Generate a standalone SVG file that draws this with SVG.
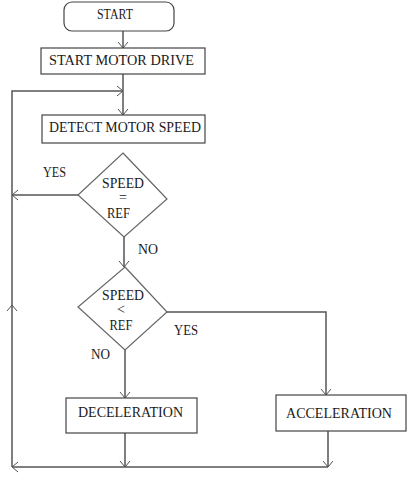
<svg xmlns="http://www.w3.org/2000/svg" width="415" height="485" viewBox="0 0 415 485">
<defs>
<style>
.box{fill:#fff;stroke:#444;stroke-width:1.2}
.dia{fill:#fff;stroke:#666;stroke-width:1.2}
.t{font-family:"Liberation Serif","Times New Roman",serif;font-size:14px;fill:#1a1a1a;text-anchor:middle}
.c{fill:none;stroke:#555;stroke-width:1.5}
</style>
<marker id="ah" viewBox="-7 -7 8 14" markerWidth="8" markerHeight="14" refX="0" refY="0" orient="auto" markerUnits="userSpaceOnUse">
<path d="M-6,-5 L0,0 L-6,5" fill="none" stroke="#555" stroke-width="1"/>
</marker>
</defs>
<rect width="415" height="485" fill="#fff"/>
<g id="connectors">
<path class="c" d="M123,31 V48" marker-end="url(#ah)"/>
<path class="c" d="M123,74 V115" marker-end="url(#ah)"/>
<path class="c" d="M124,237 V267" marker-end="url(#ah)"/>
<path class="c" d="M78,195 H12" marker-end="url(#ah)"/>
<path class="c" d="M167,312 H326 V395" marker-end="url(#ah)"/>
<path class="c" d="M125,350 V398" marker-end="url(#ah)"/>
<path class="c" d="M125,433 V467" marker-end="url(#ah)"/>
<path class="c" d="M328,431 V467" marker-end="url(#ah)"/>
<path class="c" d="M328,467 H12" marker-end="url(#ah)"/>
<path class="c" d="M12,467 V305" marker-end="url(#ah)"/>
<path class="c" d="M12,305 V91 H123" marker-end="url(#ah)"/>
</g>
<g id="start">
<rect class="box" x="64" y="2" width="110" height="29" rx="8"/>
<text class="t" x="115" y="19" textLength="36" lengthAdjust="spacingAndGlyphs">START</text>
</g>
<g id="start-motor-drive">
<rect class="box" x="41" y="48" width="164" height="26"/>
<text class="t" x="121.5" y="65" textLength="145" lengthAdjust="spacingAndGlyphs">START MOTOR DRIVE</text>
</g>
<g id="detect-motor-speed">
<rect class="box" x="42" y="115" width="163" height="28" stroke-width="2"/>
<text class="t" x="125" y="132" textLength="152" lengthAdjust="spacingAndGlyphs">DETECT MOTOR SPEED</text>
</g>
<g id="decision-equal">
<polygon class="dia" points="123,153 167,199 124,237 78,195"/>
<text class="t" x="123" y="188" textLength="42" lengthAdjust="spacingAndGlyphs">SPEED</text>
<text class="t" x="123" y="202">=</text>
<text class="t" x="118.5" y="218" textLength="23" lengthAdjust="spacingAndGlyphs">REF</text>
<text class="t" x="54.5" y="177" textLength="23" lengthAdjust="spacingAndGlyphs">YES</text>
<text class="t" x="148" y="254" textLength="20" lengthAdjust="spacingAndGlyphs">NO</text>
</g>
<g id="decision-less">
<polygon class="dia" points="125,267 167,312 125,350 78,307"/>
<text class="t" x="123" y="300" textLength="42" lengthAdjust="spacingAndGlyphs">SPEED</text>
<text class="t" x="121" y="314">&lt;</text>
<text class="t" x="121" y="330" textLength="23" lengthAdjust="spacingAndGlyphs">REF</text>
<text class="t" x="186" y="335" textLength="24" lengthAdjust="spacingAndGlyphs">YES</text>
<text class="t" x="100.5" y="359" textLength="19" lengthAdjust="spacingAndGlyphs">NO</text>
</g>
<g id="deceleration">
<rect class="box" x="66" y="398" width="131" height="35"/>
<text class="t" x="130.5" y="417" textLength="105" lengthAdjust="spacingAndGlyphs">DECELERATION</text>
</g>
<g id="acceleration">
<rect class="box" x="276" y="395" width="130" height="36" stroke-width="1.6"/>
<text class="t" x="339" y="418" textLength="106" lengthAdjust="spacingAndGlyphs">ACCELERATION</text>
</g>
</svg>
